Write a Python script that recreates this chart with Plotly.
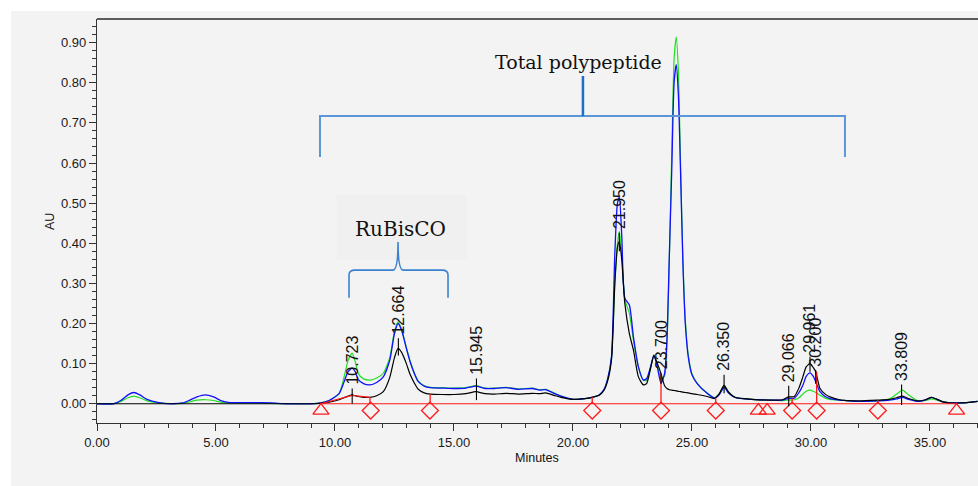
import plotly.graph_objects as go

# ---------------- data ----------------
T = [0.0, 0.7, 1.0, 1.3, 1.55, 1.8, 2.1, 2.6, 3.2, 3.6, 3.9, 4.2, 4.55, 4.9, 5.2, 5.6, 6.5, 7.3, 8.0, 9.0,
     9.4, 9.75, 10.17, 10.38, 10.55, 10.72, 10.85, 10.98, 11.2, 11.47, 11.75, 12.03, 12.3, 12.5, 12.65, 12.8,
     13.0, 13.15, 13.35, 13.5, 13.75, 14.0, 14.5, 15.0, 15.5, 15.92, 16.3, 16.7, 17.2, 17.7, 18.3, 18.6, 18.85,
     19.2, 19.5, 20.0, 20.5, 20.8, 21.1, 21.3, 21.45, 21.62, 21.76, 21.87, 21.95, 22.05, 22.18, 22.37, 22.54,
     22.75, 22.96, 23.1, 23.25, 23.4, 23.55, 23.7, 23.85, 23.95, 24.05, 24.15, 24.25, 24.34, 24.43, 24.52,
     24.62, 24.72, 24.85, 25.0, 25.22, 25.64, 25.95, 26.15, 26.35, 26.55, 26.8, 27.5, 28.3, 28.8, 29.05, 29.3,
     29.5, 29.66, 29.8, 29.96, 30.1, 30.2, 30.38, 30.6, 30.8, 31.2, 31.5, 32.0, 32.8, 33.3, 33.6, 33.85, 34.1,
     34.5, 34.8, 35.07, 35.3, 35.6, 36.3, 37.0]

green = [0, 0, 0.006, 0.015, 0.019, 0.015, 0.007, 0.002, 0.0, 0.001, 0.005, 0.009, 0.010, 0.008, 0.004, 0.002,
         0.002, 0.001, 0.0, 0.0,
         0.002, 0.008, 0.025, 0.066, 0.108, 0.126, 0.105, 0.075, 0.062, 0.059, 0.064, 0.076, 0.115, 0.180, 0.204,
         0.185, 0.140, 0.108, 0.075, 0.057, 0.045, 0.041, 0.040, 0.039, 0.040, 0.045, 0.039, 0.039, 0.041, 0.037,
         0.039, 0.035, 0.036, 0.027, 0.019, 0.011, 0.013, 0.016, 0.022, 0.035, 0.06, 0.117, 0.30, 0.40, 0.43,
         0.37, 0.26, 0.225, 0.159, 0.092, 0.059, 0.058, 0.085, 0.121, 0.095, 0.06, 0.07, 0.15, 0.36, 0.62, 0.86,
         0.914, 0.83, 0.60, 0.36, 0.21, 0.12, 0.075, 0.051, 0.026, 0.015, 0.025, 0.045, 0.028, 0.016, 0.011,
         0.009, 0.008, 0.009, 0.010, 0.015, 0.024, 0.031, 0.034, 0.031, 0.028, 0.021, 0.014, 0.011, 0.009,
         0.008, 0.006, 0.007, 0.012, 0.024, 0.034, 0.022, 0.007, 0.008, 0.012, 0.009, 0.004, 0.002, 0.006]

blue = [0, 0, 0.008, 0.022, 0.028, 0.022, 0.011, 0.003, 0.0, 0.002, 0.009, 0.017, 0.022, 0.017, 0.008, 0.003,
        0.003, 0.002, 0.0, 0.0,
        0.002, 0.008, 0.025, 0.054, 0.080, 0.089, 0.080, 0.060, 0.050, 0.047, 0.053, 0.067, 0.108, 0.175, 0.200,
        0.183, 0.138, 0.106, 0.073, 0.055, 0.044, 0.040, 0.039, 0.038, 0.039, 0.044, 0.038, 0.038, 0.040, 0.036,
        0.038, 0.034, 0.035, 0.026, 0.019, 0.011, 0.013, 0.016, 0.022, 0.035, 0.06, 0.117, 0.375, 0.50, 0.515,
        0.42, 0.263, 0.246, 0.167, 0.092, 0.059, 0.063, 0.09, 0.121, 0.09, 0.051, 0.075, 0.16, 0.37, 0.58, 0.80,
        0.845, 0.77, 0.58, 0.35, 0.20, 0.115, 0.072, 0.050, 0.026, 0.014, 0.023, 0.041, 0.026, 0.016, 0.011,
        0.009, 0.009, 0.013, 0.014, 0.028, 0.046, 0.068, 0.077, 0.068, 0.055, 0.030, 0.018, 0.013, 0.009,
        0.008, 0.006, 0.007, 0.009, 0.012, 0.016, 0.011, 0.006, 0.009, 0.016, 0.011, 0.004, 0.002, 0.006]

black = [0, 0, 0, 0, 0, 0, 0, 0, 0, 0, 0, 0, 0, 0, 0, 0, 0, 0, 0, 0,
         0.001, 0.004, 0.010, 0.015, 0.019, 0.022, 0.020, 0.018, 0.016, 0.016, 0.020, 0.030, 0.065, 0.115, 0.138,
         0.128, 0.100, 0.074, 0.050, 0.036, 0.027, 0.024, 0.023, 0.023, 0.025, 0.030, 0.025, 0.024, 0.026, 0.024,
         0.026, 0.025, 0.027, 0.021, 0.016, 0.011, 0.013, 0.016, 0.021, 0.033, 0.055, 0.11, 0.30, 0.39, 0.404,
         0.36, 0.25, 0.175, 0.134, 0.067, 0.047, 0.051, 0.085, 0.12, 0.10, 0.075, 0.045, 0.038, 0.035, 0.034,
         0.033, 0.032, 0.031, 0.030, 0.029, 0.028, 0.027, 0.025, 0.023, 0.018, 0.013, 0.025, 0.046, 0.028, 0.016,
         0.011, 0.009, 0.010, 0.017, 0.018, 0.040, 0.067, 0.092, 0.100, 0.090, 0.080, 0.038, 0.024, 0.017, 0.010,
         0.008, 0.007, 0.009, 0.011, 0.015, 0.019, 0.013, 0.007, 0.010, 0.016, 0.011, 0.004, 0.002, 0.006]

peak_times = [10.723, 12.664, 15.945, 21.950, 23.700, 26.350, 29.066, 29.961, 30.200, 33.809]
peak_labels = ["10.723", "12.664", "15.945", "21.950", "23.700", "26.350", "29.066", "29.961", "30.200", "33.809"]
label_base = [0.042, 0.167, 0.067, 0.43, 0.08, 0.076, 0.049, 0.121, 0.088, 0.052]
tick_low = [0.0, 0.12, 0.009, 0.38, 0.05, 0.026, -0.006, 0.08, 0.05, -0.003]

drop_times = [11.47, 14.0, 20.81, 23.7, 26.0, 29.21, 30.24, 32.81]
drop_heights = [0.016, 0.024, 0.016, 0.075, 0.015, 0.014, 0.08, 0.009]
diamond_times = [11.5, 13.99, 20.81, 23.7, 26.0, 29.21, 30.24, 32.81]
triangle_times = [9.41, 27.79, 28.16, 36.12]
marker_level = -0.017
baseline_x = [9.41, 36.12]
tent_x = [9.41, 10.72, 11.47]
tent_y = [0.0, 0.021, 0.016]

# bracket annotations (minutes / AU)
total_bracket = dict(x0=9.37, x1=31.43, xm=20.42, y=0.717, yend=0.615, ytop=0.817)
rubisco_brace = dict(x0=10.59, x1=14.75, xm=12.65, ybot=0.264, ymid=0.333, ytip=0.403)
rubisco_box = dict(x0=10.07, x1=15.53, y0=0.358, y1=0.520)

BG = "#f3f3f3"
RED = "#ff1a1a"

fig = go.Figure()
line_kw = dict(shape="spline", smoothing=0.6)
fig.add_trace(go.Scatter(x=T, y=green, mode="lines", line=dict(color="#22e022", width=1.2, **line_kw), hoverinfo="skip"))
fig.add_trace(go.Scatter(x=T, y=blue, mode="lines", line=dict(color="#1010ff", width=1.3, **line_kw), hoverinfo="skip"))
fig.add_trace(go.Scatter(x=T, y=black, mode="lines", line=dict(color="#000000", width=1.2, **line_kw), hoverinfo="skip"))

# red baseline & integration marks
fig.add_trace(go.Scatter(x=baseline_x, y=[0, 0], mode="lines", line=dict(color=RED, width=1.2), hoverinfo="skip"))
fig.add_trace(go.Scatter(x=tent_x, y=tent_y, mode="lines", line=dict(color=RED, width=1.2), hoverinfo="skip"))
dx, dy = [], []
for t, h in zip(drop_times, drop_heights):
    dx += [t, t, None]
    dy += [0, h, None]
fig.add_trace(go.Scatter(x=dx, y=dy, mode="lines", line=dict(color=RED, width=1.3), hoverinfo="skip"))
fig.add_trace(go.Scatter(x=diamond_times, y=[marker_level] * len(diamond_times), mode="markers",
                         marker=dict(symbol="diamond-open", size=13, color=RED, line=dict(width=1.3, color=RED)),
                         hoverinfo="skip"))
fig.add_trace(go.Scatter(x=triangle_times, y=[marker_level] * len(triangle_times), mode="markers",
                         marker=dict(symbol="triangle-up-open", size=14, color=RED, line=dict(width=1.3, color=RED)),
                         hoverinfo="skip"))

# peak ticks
px_, py_ = [], []
for t, lo, hi in zip(peak_times, tick_low, label_base):
    px_ += [t, t, None]
    py_ += [lo, hi - 0.004, None]
fig.add_trace(go.Scatter(x=px_, y=py_, mode="lines", line=dict(color="#000000", width=1.1), hoverinfo="skip"))

annotations = []
for t, lab, yb in zip(peak_times, peak_labels, label_base):
    annotations.append(dict(x=t, y=yb, xref="x", yref="y", text=lab, textangle=-90, showarrow=False,
                            xanchor="center", yanchor="bottom",
                            font=dict(family="Liberation Sans, Arial", size=16, color="#111111")))

annotations.append(dict(x=20.25, y=0.852, xref="x", yref="y", text="Total polypeptide", showarrow=False,
                        xanchor="center", yanchor="middle",
                        font=dict(family="DejaVu Serif", size=19, color="#111111")))
annotations.append(dict(x=12.75, y=0.436, xref="x", yref="y", text="RuBisCO", showarrow=False,
                        xanchor="center", yanchor="middle",
                        font=dict(family="DejaVu Serif", size=20, color="#111111")))
annotations.append(dict(x=-0.0533, y=0.4975, xref="paper", yref="paper", text="AU", textangle=-90,
                        showarrow=False, xanchor="center", yanchor="middle",
                        font=dict(family="Liberation Sans, Arial", size=12.5, color="#111111")))
annotations.append(dict(x=0.4994, y=-0.0854, xref="paper", yref="paper", text="Minutes", showarrow=False,
                        xanchor="center", yanchor="middle",
                        font=dict(family="Liberation Sans, Arial", size=12.5, color="#111111")))

tb = total_bracket
rb = rubisco_brace
bx = rubisco_box
shapes = [
    dict(type="rect", xref="paper", yref="paper", x0=-0.0976, x1=1.0, y0=-0.16, y1=1.0198,
         fillcolor=BG, line=dict(width=0), layer="below"),
    dict(type="rect", xref="x", yref="y", x0=bx["x0"], x1=bx["x1"], y0=bx["y0"], y1=bx["y1"],
         fillcolor="#f0f0f0", line=dict(width=0), layer="below"),
    dict(type="path", xref="x", yref="y",
         path=f"M {tb['x0']},{tb['yend']} L {tb['x0']},{tb['y']} L {tb['x1']},{tb['y']} L {tb['x1']},{tb['yend']}",
         line=dict(color="#5b97d8", width=2)),
    dict(type="line", xref="x", yref="y", x0=tb["xm"], x1=tb["xm"], y0=tb["y"], y1=tb["ytop"],
         line=dict(color="#1f6fc4", width=2.5)),
    dict(type="path", xref="x", yref="y",
         path=(f"M {rb['x0']},{rb['ybot']} L {rb['x0']},{rb['ymid'] - 0.012} "
               f"Q {rb['x0']},{rb['ymid']} {rb['x0'] + 0.25},{rb['ymid']} "
               f"L {rb['xm'] - 0.22},{rb['ymid']} Q {rb['xm']},{rb['ymid']} {rb['xm']},{rb['ytip']} "
               f"Q {rb['xm']},{rb['ymid']} {rb['xm'] + 0.22},{rb['ymid']} "
               f"L {rb['x1'] - 0.25},{rb['ymid']} Q {rb['x1']},{rb['ymid']} {rb['x1']},{rb['ymid'] - 0.012} "
               f"L {rb['x1']},{rb['ybot']}"),
         line=dict(color="#3a82d0", width=1.6)),
    dict(type="line", xref="paper", yref="paper", x0=0, x1=1, y0=1, y1=1,
         line=dict(color="#2a2a2a", width=1.6)),
]

axis_font = dict(family="Liberation Sans, Arial", size=13, color="#1a1a1a")
fig.update_layout(
    width=978, height=486,
    margin=dict(l=97, r=0, t=19, b=63, autoexpand=False),
    paper_bgcolor="#ffffff", plot_bgcolor=BG,
    showlegend=False,
    annotations=annotations,
    shapes=shapes,
    xaxis=dict(range=[0, 37.02], tick0=0, dtick=5, tickformat=".2f", ticks="outside", ticklen=7,
               tickcolor="#333333", showgrid=False, zeroline=False, showline=True, linecolor="#333333",
               linewidth=1.3, tickfont=axis_font,
               minor=dict(dtick=1, ticks="outside", ticklen=4, tickcolor="#333333", showgrid=False)),
    yaxis=dict(range=[-0.048, 0.959], tick0=0, dtick=0.1, tickformat=".2f", ticks="outside", ticklen=7,
               tickcolor="#333333", showgrid=False, zeroline=False, showline=True, linecolor="#333333",
               linewidth=1.3, tickfont=axis_font,
               minor=dict(dtick=0.02, ticks="outside", ticklen=4, tickcolor="#333333", showgrid=False)),
)

fig.write_html("out.html")
